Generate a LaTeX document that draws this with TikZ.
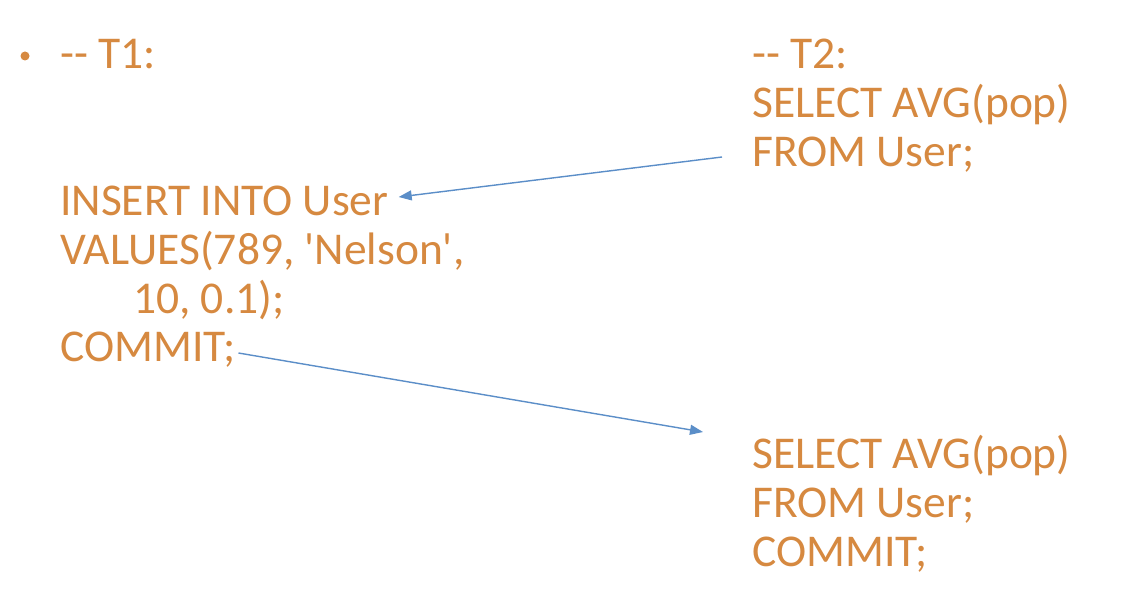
\documentclass[tikz,border=0pt]{standalone}
\usepackage{fontspec}
\setmainfont{Carlito}[Ligatures=TeXOff]
\usetikzlibrary{arrows.meta}
\definecolor{codeorange}{RGB}{214,137,64}
\definecolor{arrowblue}{RGB}{91,142,200}
\tikzset{
  code/.style={anchor=base west, inner sep=0pt, text=codeorange,
    font=\fontsize{45.5}{49}\selectfont},
  link/.style={draw=arrowblue, line width=1.4pt,
    -{Triangle[length=13pt,width=10pt]}}
}
\begin{document}
\begin{tikzpicture}[x=1pt,y=1pt]
\useasboundingbox[fill=white] (0,0) rectangle (1124,-594);
% bullet
\fill[codeorange] (25,-56) circle (4.5);
\coordinate (bul) at (25,-56);
% T1
\node[code] (t1) at (60,-69) {-- T1:};
\node[code] (ins) at (60,-215) {INSERT INTO User};
\node[code] (val) at (60,-264) {VALUES(789, 'Nelson',};
\node[code] (num) at (133,-313) {10, 0.1);};
\node[code] (com1) at (60,-361) {COMMIT;};
% T2
\node[code] (t2) at (752,-69) {-- T2:};
\node[code] (sel1) at (752,-117) {SELECT AVG(pop)};
\node[code] (from1) at (752,-166) {FROM User;};
\node[code] (sel2) at (752,-468) {SELECT AVG(pop)};
\node[code] (from2) at (752,-517) {FROM User;};
\node[code] (com2) at (752,-566) {COMMIT;};
% arrows
\coordinate (a1s) at ([xshift=-30,yshift=9]from1.base west);
\coordinate (a1e) at ([xshift=10,yshift=18]ins.base east);
\draw[link] (a1s) -- (a1e);
\coordinate (a2s) at ([xshift=3,yshift=8]com1.base east);
\coordinate (a2e) at ([xshift=-49,yshift=36]sel2.base west);
\draw[link] (a2s) -- (a2e);
\end{tikzpicture}
\end{document}
